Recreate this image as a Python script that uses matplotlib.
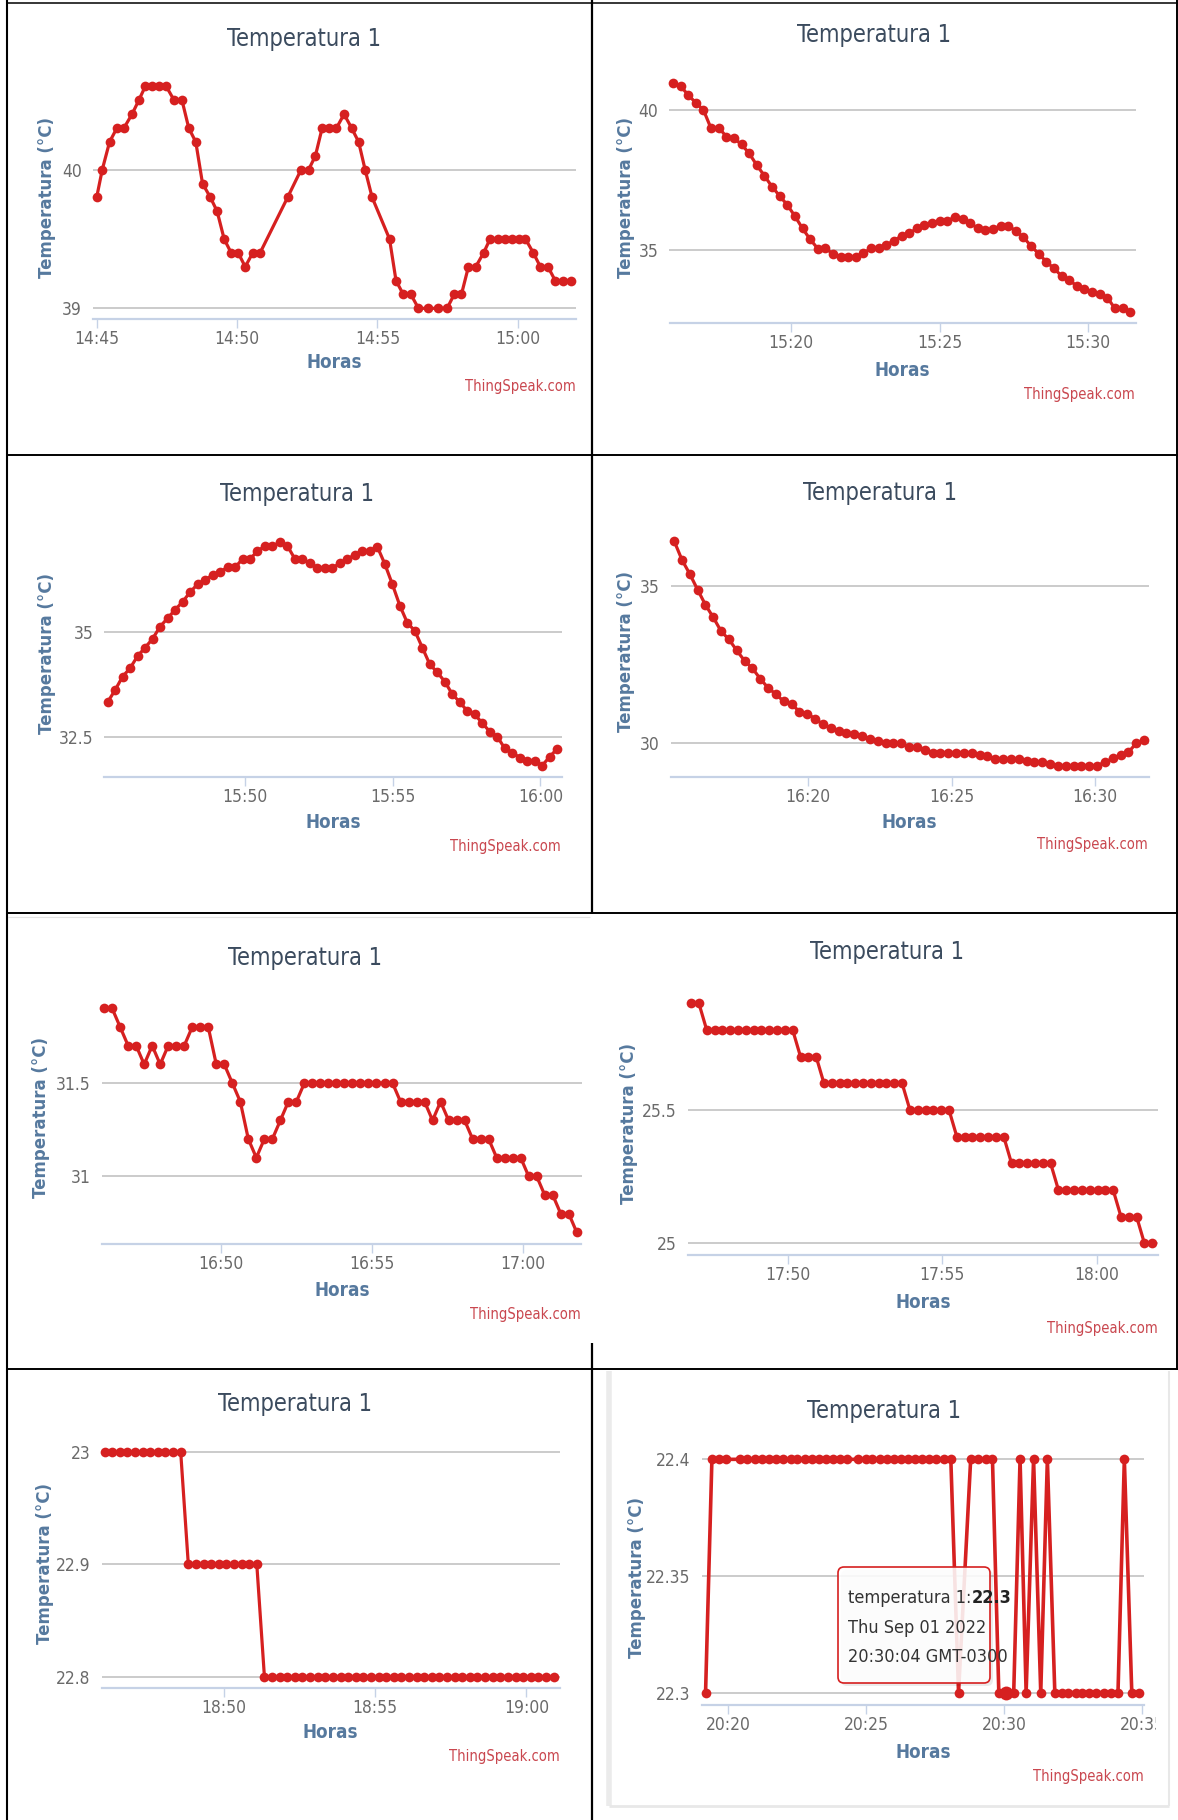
import matplotlib
matplotlib.use("Agg")
import matplotlib.pyplot as plt
import numpy as np
from matplotlib import font_manager, ticker
from matplotlib.lines import Line2D
from matplotlib.patches import FancyBboxPatch, Rectangle
from matplotlib.transforms import Affine2D

W, H = 1178, 1820

# ---------------- data ----------------
# panel 1: sample times in minutes after 14:45 (irregular, gaps)
p1_start = "14:45:00"
p1_offsets = [0, 0.20, 0.46, 0.72, 0.97, 1.26, 1.50, 1.73, 1.97, 2.23,
              2.48, 2.76, 3.04, 3.28, 3.53, 3.77, 4.05, 4.29, 4.54, 4.79,
              5.04, 5.29, 5.56, 5.82, 6.80, 7.28, 7.55, 7.79, 8.03, 8.28,
              8.54, 8.81, 9.08, 9.33, 9.56, 9.81, 10.43, 10.66, 10.92, 11.19,
              11.46, 11.80, 12.14, 12.48, 12.73, 12.99, 13.24, 13.50, 13.78, 14.01,
              14.28, 14.54, 14.79, 15.03, 15.27, 15.55, 15.80, 16.07, 16.33, 16.61, 16.89]
p1_temp = [39.8, 40.0, 40.2, 40.3, 40.3, 40.4, 40.5, 40.6, 40.6, 40.6,
           40.6, 40.5, 40.5, 40.3, 40.2, 39.9, 39.8, 39.7, 39.5, 39.4,
           39.4, 39.3, 39.4, 39.4, 39.8, 40.0, 40.0, 40.1, 40.3, 40.3,
           40.3, 40.4, 40.3, 40.2, 40.0, 39.8, 39.5, 39.2, 39.1, 39.1,
           39.0, 39.0, 39.0, 39.0, 39.1, 39.1, 39.3, 39.3, 39.4, 39.5,
           39.5, 39.5, 39.5, 39.5, 39.5, 39.4, 39.3, 39.3, 39.2, 39.2, 39.2]

# panels 2-7: regular sampling between first and last reading
p2_first, p2_last = "15:16:01", "15:31:25"
p2_temp = [40.94, 40.85, 40.52, 40.25, 39.99, 39.33, 39.36, 39.04, 38.98, 38.76,
           38.44, 38.02, 37.64, 37.25, 36.92, 36.60, 36.20, 35.76, 35.37, 35.04,
           35.05, 34.85, 34.73, 34.73, 34.75, 34.87, 35.05, 35.05, 35.17, 35.32,
           35.49, 35.58, 35.76, 35.88, 35.96, 36.04, 36.04, 36.15, 36.08, 35.96,
           35.76, 35.70, 35.73, 35.85, 35.85, 35.67, 35.44, 35.13, 34.85, 34.57,
           34.33, 34.06, 33.92, 33.70, 33.58, 33.50, 33.40, 33.29, 32.90, 32.90, 32.79]

p3_first, p3_last = "15:45:20", "16:00:34"
p3_temp = [33.32, 33.61, 33.93, 34.13, 34.42, 34.62, 34.83, 35.12, 35.32, 35.52,
           35.71, 35.94, 36.13, 36.23, 36.35, 36.43, 36.53, 36.53, 36.73, 36.73,
           36.92, 37.04, 37.04, 37.13, 37.04, 36.73, 36.73, 36.63, 36.52, 36.52,
           36.52, 36.63, 36.73, 36.83, 36.93, 36.93, 37.02, 36.61, 36.13, 35.62,
           35.21, 35.02, 34.62, 34.22, 34.03, 33.81, 33.51, 33.32, 33.11, 33.03,
           32.82, 32.62, 32.50, 32.22, 32.12, 32.00, 31.92, 31.92, 31.81, 32.02, 32.21]

p4_first, p4_last = "16:15:20", "16:31:42"
p4_temp = [36.43, 35.83, 35.38, 34.88, 34.40, 34.00, 33.56, 33.30, 32.95, 32.62,
           32.38, 32.05, 31.76, 31.56, 31.33, 31.24, 31.01, 30.94, 30.78, 30.60,
           30.48, 30.38, 30.33, 30.30, 30.22, 30.15, 30.08, 30.00, 30.00, 30.00,
           29.89, 29.89, 29.80, 29.70, 29.70, 29.70, 29.70, 29.70, 29.70, 29.62,
           29.60, 29.50, 29.49, 29.49, 29.49, 29.45, 29.40, 29.40, 29.35, 29.29,
           29.29, 29.29, 29.29, 29.29, 29.29, 29.40, 29.52, 29.63, 29.72, 30.00, 30.11]

p5_first, p5_last = "16:46:08", "17:01:47"
p5_temp = [31.9, 31.9, 31.8, 31.7, 31.7, 31.6, 31.7, 31.6, 31.7, 31.7,
           31.7, 31.8, 31.8, 31.8, 31.6, 31.6, 31.5, 31.4, 31.2, 31.1,
           31.2, 31.2, 31.3, 31.4, 31.4, 31.5, 31.5, 31.5, 31.5, 31.5,
           31.5, 31.5, 31.5, 31.5, 31.5, 31.5, 31.5, 31.4, 31.4, 31.4,
           31.4, 31.3, 31.4, 31.3, 31.3, 31.3, 31.2, 31.2, 31.2, 31.1,
           31.1, 31.1, 31.1, 31.0, 31.0, 30.9, 30.9, 30.8, 30.8, 30.7]

p6_first, p6_last = "17:46:53", "18:01:47"
p6_temp = [25.9, 25.9, 25.8, 25.8, 25.8, 25.8, 25.8, 25.8, 25.8, 25.8,
           25.8, 25.8, 25.8, 25.8, 25.7, 25.7, 25.7, 25.6, 25.6, 25.6,
           25.6, 25.6, 25.6, 25.6, 25.6, 25.6, 25.6, 25.6, 25.5, 25.5,
           25.5, 25.5, 25.5, 25.5, 25.4, 25.4, 25.4, 25.4, 25.4, 25.4,
           25.4, 25.3, 25.3, 25.3, 25.3, 25.3, 25.3, 25.2, 25.2, 25.2,
           25.2, 25.2, 25.2, 25.2, 25.2, 25.1, 25.1, 25.1, 25.0, 25.0]

p7_first, p7_last = "18:46:03", "19:00:54"
p7_temp = [23.0, 23.0, 23.0, 23.0, 23.0, 23.0, 23.0, 23.0, 23.0, 23.0,
           23.0, 22.9, 22.9, 22.9, 22.9, 22.9, 22.9, 22.9, 22.9, 22.9,
           22.9, 22.8, 22.8, 22.8, 22.8, 22.8, 22.8, 22.8, 22.8, 22.8,
           22.8, 22.8, 22.8, 22.8, 22.8, 22.8, 22.8, 22.8, 22.8, 22.8,
           22.8, 22.8, 22.8, 22.8, 22.8, 22.8, 22.8, 22.8, 22.8, 22.8,
           22.8, 22.8, 22.8, 22.8, 22.8, 22.8, 22.8, 22.8, 22.8, 22.8]

# panel 8: sample times in minutes after 20:20 (irregular)
p8_start = "20:20:00"
p8_offsets = [-0.83, -0.60, -0.35, -0.10, 0.42, 0.69, 0.96, 1.21, 1.48, 1.74,
              1.98, 2.26, 2.50, 2.77, 3.03, 3.30, 3.55, 3.80, 4.06, 4.31,
              4.70, 4.97, 5.22, 5.49, 5.73, 5.99, 6.25, 6.51, 6.77, 7.02,
              7.27, 7.53, 7.80, 8.06, 8.34, 8.78, 9.05, 9.32, 9.57, 9.80,
              10.07, 10.34, 10.57, 10.79, 11.06, 11.32, 11.56, 11.83, 12.08, 12.32,
              12.58, 12.83, 13.08, 13.33, 13.60, 13.87, 14.12, 14.35, 14.62, 14.89]
p8_temp = [22.3, 22.4, 22.4, 22.4, 22.4, 22.4, 22.4, 22.4, 22.4, 22.4,
           22.4, 22.4, 22.4, 22.4, 22.4, 22.4, 22.4, 22.4, 22.4, 22.4,
           22.4, 22.4, 22.4, 22.4, 22.4, 22.4, 22.4, 22.4, 22.4, 22.4,
           22.4, 22.4, 22.4, 22.4, 22.3, 22.4, 22.4, 22.4, 22.4, 22.3,
           22.3, 22.3, 22.4, 22.3, 22.4, 22.3, 22.4, 22.3, 22.3, 22.3,
           22.3, 22.3, 22.3, 22.3, 22.3, 22.3, 22.3, 22.4, 22.3, 22.3]
p8_hover = 40  # index of the point under the tooltip
tooltip_lines = ["temperatura 1:", "22.3", "Thu Sep 01 2022", "20:30:04 GMT-0300"]

titulo = "Temperatura 1"
eixo_y = "Temperatura (°C)"
eixo_x = "Horas"
credito = "ThingSpeak.com"

# ---------------- styles ----------------
RED = "#d62020"
TITLE_C = "#3b4b5e"
AXT_C = "#56799e"
TICK_C = "#6a6a6a"
GRID_C = "#cbcbcb"
AXIS_C = "#c6d2e6"
CRED_C = "#c9474f"

names = {f.name for f in font_manager.fontManager.ttflist}
cond = any(f.name == "DejaVu Sans" and f.stretch in ("condensed", "semi-condensed")
           for f in font_manager.fontManager.ttflist)
if "Liberation Sans Narrow" in names:
    NARROW, STRETCH = "Liberation Sans Narrow", "normal"
elif cond:
    NARROW, STRETCH = "DejaVu Sans", "condensed"
else:
    NARROW, STRETCH = "Roboto", "normal"
plt.rcParams["font.family"] = [NARROW, "DejaVu Sans"]
plt.rcParams["font.stretch"] = STRETCH


def to_min(s):
    h, m, sec = (int(p) for p in s.split(":"))
    return h * 60 + m + sec / 60


def hhmm(m):
    m = int(round(m))
    return f"{m // 60}:{m % 60:02d}"


def regular(first, last, vals):
    return np.linspace(to_min(first), to_min(last), len(vals))


fig = plt.figure(figsize=(W / 100, H / 100), dpi=100)
PX = Affine2D().scale(1, -1).translate(0, H)


def T(x, y, s, **kw):
    return fig.text(x, y, s, transform=PX, **kw)


def panel(box, xlim, ylim, yticks, t, v, texts, lw=2.3, ms=7.0):
    x0, x1, y0, y1 = box
    ax = fig.add_axes([x0 / W, 1 - y1 / H, (x1 - x0) / W, (y1 - y0) / H])
    ax.set_xlim(xlim)
    ax.set_ylim(ylim)
    ax.patch.set_alpha(0)
    for s in ("left", "right", "top"):
        ax.spines[s].set_visible(False)
    ax.spines["bottom"].set_color(AXIS_C)
    ax.spines["bottom"].set_linewidth(1.6)
    ax.set_yticks(yticks)
    ax.yaxis.set_major_formatter(ticker.FormatStrFormatter("%g"))
    ax.grid(axis="y", color=GRID_C, lw=1.4)
    ax.set_axisbelow(True)
    xt = np.arange(np.ceil(xlim[0] / 5) * 5, xlim[1] + 1e-6, 5)
    ax.set_xticks(xt)
    ax.set_xticklabels([hhmm(m) for m in xt])
    ax.tick_params(axis="x", length=6.5, width=1, color=AXIS_C, pad=1.5,
                   labelsize=12.5, labelcolor=TICK_C)
    ax.tick_params(axis="y", length=0, pad=8, labelsize=12.5, labelcolor=TICK_C)
    ax.plot(t, v, color=RED, lw=lw, marker="o", ms=ms, mew=0,
            clip_on=False, zorder=3, solid_joinstyle="round")
    (tx, ty), (lx, ly), (hx, hy), (cx, cy) = texts
    T(tx, ty, titulo, ha="center", va="center", fontsize=17, color=TITLE_C)
    T(lx, ly, eixo_y, rotation=90, ha="center", va="center", family="DejaVu Sans",
      stretch="normal", weight="bold", fontsize=12, color=AXT_C)
    T(hx, hy, eixo_x, ha="center", va="center", weight="bold", fontsize=13.5, color=AXT_C)
    T(cx, cy, credito, ha="right", va="center", fontsize=10.5, color=CRED_C)
    return ax


t1 = to_min(p1_start) + np.array(p1_offsets)
t8 = to_min(p8_start) + np.array(p8_offsets)

panel((93, 576, 72.6, 319), (884.87, 902.07), (38.923, 40.7), [39, 40], t1, p1_temp,
      [(304, 39), (47, 197), (334, 363), (576, 387)])
panel((669.5, 1135.6, 78.9, 323.3), (915.9, 931.6), (32.37, 41.1), [35, 40],
      regular(p2_first, p2_last, p2_temp), p2_temp,
      [(874, 35), (626, 197), (902, 370), (1135, 395)])
panel((104.3, 562.3, 522.5, 777.3), (945.22, 960.74), (31.53, 37.6), [32.5, 35],
      regular(p3_first, p3_last, p3_temp), p3_temp,
      [(297, 494), (47, 653), (333, 822), (561, 846)])
panel((670.6, 1148.7, 532.5, 777.3), (975.21, 991.86), (28.92, 36.7), [30, 35],
      regular(p4_first, p4_last, p4_temp), p4_temp,
      [(880, 493), (626, 652), (909, 822), (1148, 845)])
panel((101.6, 581.5, 989.7, 1244.3), (1006.05, 1021.94), (30.636, 32.0), [31, 31.5],
      regular(p5_first, p5_last, p5_temp), p5_temp,
      [(305, 958), (41, 1118), (342, 1290), (581, 1314)])
panel((688.2, 1158, 976.7, 1255), (1066.79, 1081.97), (24.956, 26.0), [25, 25.5],
      regular(p6_first, p6_last, p6_temp), p6_temp,
      [(887, 952), (629, 1123), (923, 1303), (1158, 1328)])
panel((101.6, 559.6, 1418.6, 1687.7), (1125.95, 1141.1), (22.7902, 23.03), [22.8, 22.9, 23],
      regular(p7_first, p7_last, p7_temp), p7_temp,
      [(295, 1404), (45, 1563), (330, 1733), (560, 1757)])
ax8 = panel((701.7, 1144.2, 1436, 1705), (1219.03, 1235.07), (22.2947, 22.41),
            [22.3, 22.35, 22.4], t8, p8_temp,
            [(884, 1411), (637, 1577), (923, 1752), (1144, 1777)], lw=2.6, ms=7.0)
ax8.plot([t8[p8_hover]], [p8_temp[p8_hover]], "o", color=RED, ms=10, mew=0,
         clip_on=False, zorder=4)

# tooltip
fig.add_artist(FancyBboxPatch((841, 1570), 152, 116, boxstyle="round,pad=0,rounding_size=6",
                              transform=PX, fc="#000000", ec="none", alpha=0.08, zorder=5))
fig.add_artist(FancyBboxPatch((838, 1567), 152, 116, boxstyle="round,pad=0,rounding_size=6",
                              transform=PX, fc=(1, 1, 1, 0.88), ec=RED, lw=1.2, zorder=6))
tip = T(848, 1598, tooltip_lines[0], ha="left", va="center", fontsize=13, color="#333333",
        zorder=7)
bb = tip.get_window_extent(renderer=fig.canvas.get_renderer())
T(bb.x1, 1598, tooltip_lines[1], ha="left", va="center", fontsize=13, weight="bold",
  color="#222222", zorder=7)
T(848, 1628, tooltip_lines[2], ha="left", va="center", fontsize=13, color="#333333", zorder=7)
T(848, 1657, tooltip_lines[3], ha="left", va="center", fontsize=13, color="#333333", zorder=7)

# right edge of the last screenshot cuts the 20:35 label
fig.add_artist(Rectangle((1156, 1710), 12, 30, transform=PX, fc="white", ec="none", zorder=8))


def line(xs, ys, color="black", lw=1.2, z=9):
    fig.add_artist(Line2D(xs, ys, transform=PX, color=color, lw=lw, zorder=z,
                          solid_capstyle="butt"))


# light frame of the last screenshot
line([609, 609], [1371, 1806], color="#ebebeb", lw=4, z=1)
line([609, 1169], [1806, 1806], color="#e8e8e8", lw=2, z=1)
line([1169, 1169], [1371, 1806], color="#e8e8e8", lw=1.5, z=1)
line([8, 590], [916.5, 916.5], color="#e4e4e4", lw=0.8, z=1)

# table borders
line([6, 1178], [3.3, 3.3], lw=1.1)
line([6.7, 6.7], [0, 1820], lw=1.5)
for yy in (455, 913, 1369):
    line([6, 1178], [yy, yy], lw=1.4)
line([592, 592], [0, 914], lw=1.6)
line([592, 592], [1343, 1820], lw=1.6)
line([1176.5, 1176.5], [0, 1370], lw=1.4)

fig.savefig("out.png", dpi=100, facecolor="white")
